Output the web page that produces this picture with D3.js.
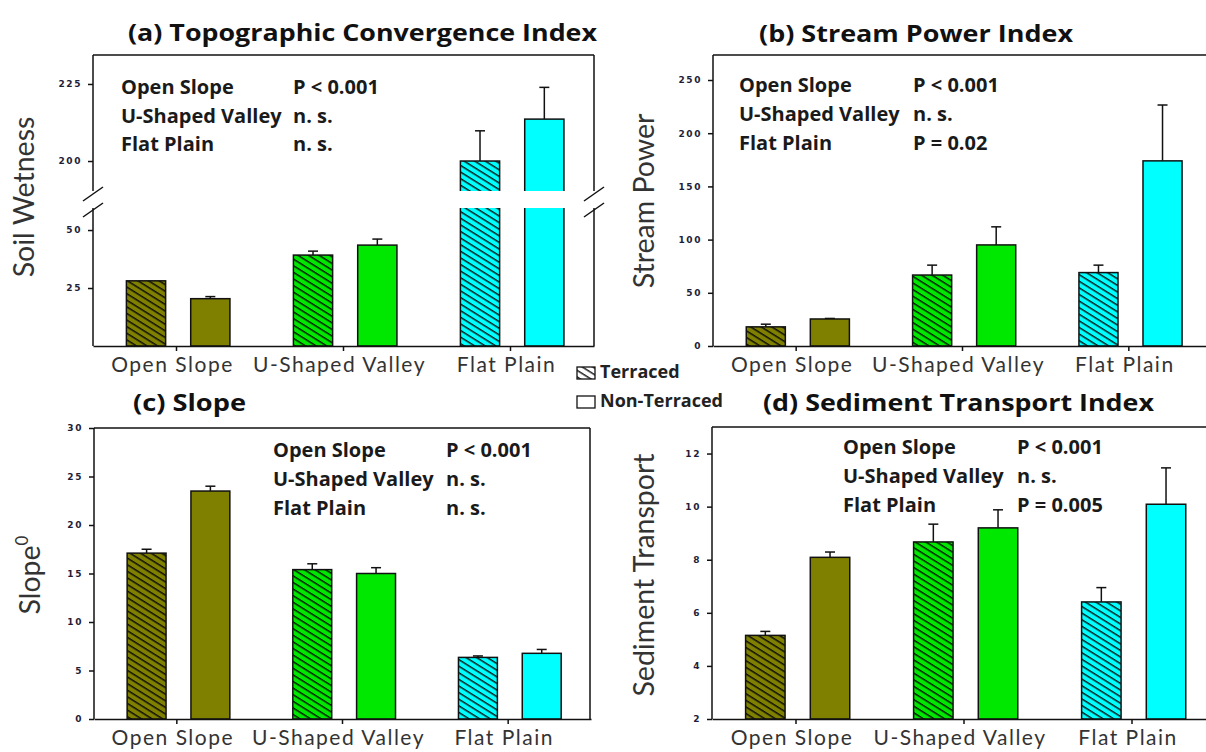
<!DOCTYPE html>
<html><head><meta charset="utf-8">
<script src="https://cdn.jsdelivr.net/npm/d3@7"></script>
<style>
body{margin:0;background:#fff;}
svg{display:block;}
</style></head><body>
<svg id="chart" width="1206" height="752"></svg>
<script>
// ---------- data ----------
const categories = ["Open Slope", "U-Shaped Valley", "Flat Plain"];
const series = ["Terraced", "Non-Terraced"];
const colors = ["#808000", "#00e800", "#00ffff"];

// (a) Topographic Convergence Index (soil wetness)
const twiTerraced = [28.1, 39.2, 200.0];
const twiTerracedErr = [0.0, 1.7, 9.8];
const twiNonTerraced = [20.4, 43.5, 213.6];
const twiNonTerracedErr = [0.9, 2.6, 10.3];
const twiTicksLow = [25, 50];
const twiTicksHigh = [200, 225];
const twiP = ["P < 0.001", "n. s.", "n. s."];

// (b) Stream Power Index
const spiTerraced = [18.0, 66.7, 69.0];
const spiTerracedErr = [2.5, 9.3, 7.0];
const spiNonTerraced = [25.4, 95.0, 174.0];
const spiNonTerracedErr = [0.5, 17.0, 52.5];
const spiTicks = [0, 50, 100, 150, 200, 250];
const spiP = ["P < 0.001", "n. s.", "P = 0.02"];

// (c) Slope
const slopeTerraced = [17.1, 15.4, 6.35];
const slopeTerracedErr = [0.4, 0.6, 0.15];
const slopeNonTerraced = [23.5, 15.0, 6.77];
const slopeNonTerracedErr = [0.5, 0.6, 0.4];
const slopeTicks = [0, 5, 10, 15, 20, 25, 30];
const slopeP = ["P < 0.001", "n. s.", "n. s."];

// (d) Sediment Transport Index
const stiTerraced = [5.15, 8.67, 6.41];
const stiTerracedErr = [0.15, 0.67, 0.54];
const stiNonTerraced = [8.09, 9.2, 10.09];
const stiNonTerracedErr = [0.2, 0.68, 1.37];
const stiTicks = [2, 4, 6, 8, 10, 12];
const stiP = ["P < 0.001", "n. s.", "P = 0.005"];

// ---------- drawing ----------
const svg = d3.select("#chart");
const defs = svg.append("defs");
const INK = "#111";

function hatch(id, fill) {
  const p = defs.append("pattern").attr("id", id)
    .attr("patternUnits", "userSpaceOnUse")
    .attr("width", 12).attr("height", 5.6)
    .attr("patternTransform", "rotate(32)");
  p.append("rect").attr("width", 12).attr("height", 5.6).attr("fill", fill);
  p.append("rect").attr("y", 2.0).attr("width", 12).attr("height", 1.3).attr("fill", "#000");
}
colors.forEach((c, i) => hatch("h" + i, c));
hatch("hw", "#fff");

function drawPanel(cfg) {
  const g = svg.append("g");
  const x = d3.scaleBand().domain(categories).range(cfg.xr);
  const bw = x.bandwidth();
  const x1 = d3.scaleBand().domain(series).range([bw * 0.2, bw * 0.82]).paddingInner(0.39);
  const y = cfg.y;
  const base = cfg.yb;

  const rows = [];
  categories.forEach((c, i) => {
    series.forEach((s, j) => {
      rows.push({c, i, s, j, v: cfg.vals[j][i], e: cfg.errs[j][i]});
    });
  });
  const bars = g.append("g");
  bars.selectAll("g.err").data(rows.filter(d => d.e > 0)).join("g").each(function (d) {
    const cx = x(d.c) + x1(d.s) + x1.bandwidth() / 2;
    const s = d3.select(this);
    s.append("line").attr("x1", cx).attr("x2", cx).attr("y1", y(d.v)).attr("y2", y(d.v + d.e))
      .attr("stroke", INK).attr("stroke-width", 1.5);
    s.append("line").attr("x1", cx - 5).attr("x2", cx + 5).attr("y1", y(d.v + d.e)).attr("y2", y(d.v + d.e))
      .attr("stroke", INK).attr("stroke-width", 1.5);
  });
  bars.selectAll("rect").data(rows).join("rect")
    .attr("x", d => x(d.c) + x1(d.s))
    .attr("width", x1.bandwidth())
    .attr("y", d => y(d.v))
    .attr("height", d => base - y(d.v))
    .attr("fill", d => d.j === 0 ? `url(#h${d.i})` : colors[d.i])
    .attr("stroke", INK).attr("stroke-width", 1.5);

  // frame
  g.append("line").attr("x1", cfg.xr[0]).attr("x2", cfg.frameRight).attr("y1", cfg.yt).attr("y2", cfg.yt)
    .attr("stroke", INK).attr("stroke-width", 1.5);
  if (cfg.drawRight) {
    g.append("line").attr("x1", cfg.frameRight).attr("x2", cfg.frameRight).attr("y1", cfg.yt).attr("y2", base)
      .attr("stroke", INK).attr("stroke-width", 1.5);
  }
  g.append("line").attr("x1", cfg.xr[0]).attr("x2", cfg.xr[0]).attr("y1", cfg.yt).attr("y2", base)
    .attr("stroke", INK).attr("stroke-width", 1.5);

  cfg.yAxes.forEach(ax => {
    const a = g.append("g").attr("transform", `translate(${cfg.xr[0]},0)`)
      .call(d3.axisLeft(ax.scale).tickValues(ax.ticks).tickSize(5).tickSizeOuter(0).tickPadding(6));
    a.select(".domain").remove();
    a.selectAll(".tick line").attr("stroke", INK).attr("stroke-width", 1.5);
    a.selectAll(".tick text")
      .attr("font-family", "DejaVu Sans").attr("font-weight", "bold").attr("font-size", 9)
      .attr("letter-spacing", 1.6).attr("fill", "#1e1e38");
  });

  const xa = g.append("g").attr("transform", `translate(0,${base})`)
    .call(d3.axisBottom(x).tickSize(5).tickSizeOuter(0));
  xa.select(".domain").attr("stroke", INK).attr("stroke-width", 1.5);
  xa.selectAll(".tick line").attr("stroke", INK).attr("stroke-width", 1.5);
  xa.selectAll(".tick text").attr("y", 26).attr("dy", null).attr("dx", -4)
    .attr("font-family", "Lato").attr("font-size", 21).attr("letter-spacing", 1.5)
    .attr("fill", "#333");

  // title
  svg.append("text").attr("x", cfg.title[1]).attr("y", cfg.title[2])
    .attr("font-family", "Open Sans").attr("font-weight", "bold").attr("font-size", 23)
    .attr("textLength", cfg.title[3]).attr("lengthAdjust", "spacingAndGlyphs")
    .attr("fill", "#111").text(cfg.title[0]);

  // y title
  const yt = svg.append("text")
    .attr("transform", `translate(${cfg.ytitle[1]},${cfg.ytitle[2]}) rotate(-90)`)
    .attr("text-anchor", "middle")
    .attr("font-family", "Lato").attr("font-size", 28.5).attr("fill", "#333");
  yt.append("tspan").text(cfg.ytitle[0]);
  if (cfg.ytitle[3]) yt.append("tspan").attr("dy", -12).attr("font-size", 17).text(cfg.ytitle[3]);

  // annotation
  const an = svg.append("g").attr("font-family", "Open Sans").attr("font-weight", "bold")
    .attr("font-size", 20).attr("fill", "#1a1a1a");
  categories.forEach((c, i) => {
    an.append("text").attr("x", cfg.ann[0]).attr("y", cfg.ann[2] + i * cfg.ann[3]).text(c);
    an.append("text").attr("x", cfg.ann[1]).attr("y", cfg.ann[2] + i * cfg.ann[3]).text(cfg.pvals[i]);
  });
  return g;
}

// (a) with broken axis
const lowMax = 59.5, highMin = 190.6;
const yLow = d3.scaleLinear().domain([0, lowMax]).range([346, 208]);
const yHigh = d3.scaleLinear().domain([highMin, 234.4]).range([190, 55]);
const yA = v => v <= lowMax ? yLow(v) : (v >= highMin ? yHigh(v) : 199);
const ga = drawPanel({
  xr: [93, 594], yb: 346, yt: 55, frameRight: 594, drawRight: true, y: yA,
  yAxes: [{scale: yLow, ticks: twiTicksLow}, {scale: yHigh, ticks: twiTicksHigh}],
  vals: [twiTerraced, twiNonTerraced], errs: [twiTerracedErr, twiNonTerracedErr],
  title: ["(a) Topographic Convergence Index", 128, 41, 469],
  ytitle: ["Soil Wetness", 34, 197],
  ann: [121, 293, 94, 28.5], pvals: twiP
});
ga.append("rect").attr("x", 85).attr("y", 191).attr("width", 520).attr("height", 17).attr("fill", "#fff");
[[93, 194], [93, 210], [594, 194], [594, 210]].forEach(([bx, by]) => {
  ga.append("line").attr("x1", bx - 10).attr("y1", by + 7).attr("x2", bx + 10).attr("y2", by - 7)
    .attr("stroke", INK).attr("stroke-width", 1.5);
});

// (b)
const yB = d3.scaleLinear().domain([0, 273.5]).range([346, 55]);
drawPanel({
  xr: [713, 1212], yb: 346, yt: 55, frameRight: 1212, drawRight: false, y: yB,
  yAxes: [{scale: yB, ticks: spiTicks}],
  vals: [spiTerraced, spiNonTerraced], errs: [spiTerracedErr, spiNonTerracedErr],
  title: ["(b) Stream Power Index", 759, 42, 314],
  ytitle: ["Stream Power", 654, 201],
  ann: [739, 913, 92, 29], pvals: spiP
});

// (c)
const yC = d3.scaleLinear().domain([0, 30]).range([719, 428]);
drawPanel({
  xr: [94, 591], yb: 719, yt: 428, frameRight: 590, drawRight: true, y: yC,
  yAxes: [{scale: yC, ticks: slopeTicks}],
  vals: [slopeTerraced, slopeNonTerraced], errs: [slopeTerracedErr, slopeNonTerracedErr],
  title: ["(c) Slope", 133, 411, 113],
  ytitle: ["Slope", 40, 575, "0"],
  ann: [273, 446, 457, 29], pvals: slopeP
});

// (d)
const yD = d3.scaleLinear().domain([2, 13]).range([719, 427]);
drawPanel({
  xr: [712, 1216], yb: 719, yt: 427, frameRight: 1216, drawRight: false, y: yD,
  yAxes: [{scale: yD, ticks: stiTicks}],
  vals: [stiTerraced, stiNonTerraced], errs: [stiTerracedErr, stiNonTerracedErr],
  title: ["(d) Sediment Transport Index", 763, 411, 391],
  ytitle: ["Sediment Transport", 654, 575],
  ann: [843, 1017, 454, 29], pvals: stiP
});

// legend
const lg = svg.append("g").attr("font-family", "Open Sans").attr("font-weight", "bold")
  .attr("font-size", 18).attr("fill", "#222");
series.forEach((s, j) => {
  lg.append("rect").attr("x", 577).attr("y", 367 + j * 29).attr("width", 18).attr("height", 12)
    .attr("fill", j === 0 ? "url(#hw)" : "#fff").attr("stroke", INK).attr("stroke-width", 1.3);
  lg.append("text").attr("x", 600).attr("y", 378 + j * 28.5).text(s);
});
</script>
</body></html>
